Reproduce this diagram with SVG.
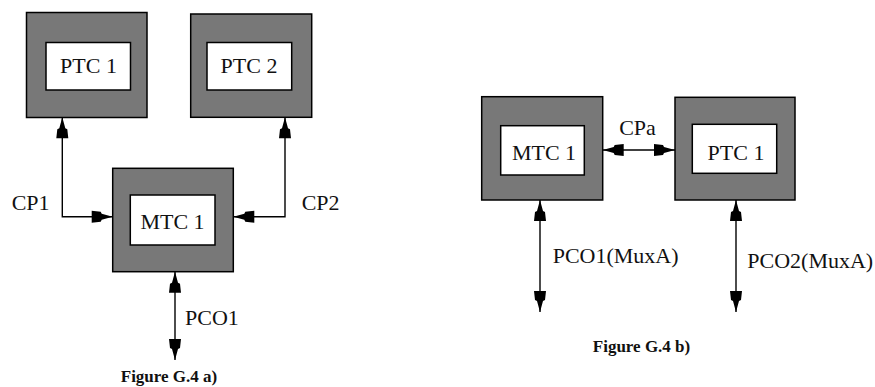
<svg xmlns="http://www.w3.org/2000/svg" width="875" height="387" viewBox="0 0 875 387">
<style>
.outer{fill:#787878;stroke:#000;stroke-width:1.5}
.inner{fill:#fff;stroke:#000;stroke-width:1.5}
.lbl{font-family:"Liberation Serif","Times New Roman",serif;font-size:22px;fill:#111}
.cap{font-family:"Liberation Serif","Times New Roman",serif;font-size:17px;font-weight:bold;fill:#111}
.conn{fill:none;stroke:#000;stroke-width:1.4}
</style>
<defs>
<marker id="ah" markerUnits="userSpaceOnUse" viewBox="-23 -7 24 14" refX="0" refY="0" markerWidth="24" markerHeight="14" orient="auto-start-reverse">
<path d="M0,0 L-11,-3 L-12,-5 L-21,-6 L-21,6 L-12,5 L-11,3 Z" fill="#000"/>
</marker>
</defs>
<rect width="875" height="387" fill="#fff"/>
<g id="a-ptc1">
<rect class="outer" x="26.5" y="12.5" width="120.5" height="105"/>
<rect class="inner" x="46" y="42.5" width="84.5" height="47.5"/>
<text class="lbl" x="88.5" y="72.7" text-anchor="middle">PTC 1</text>
</g>
<g id="a-ptc2">
<rect class="outer" x="190.7" y="14" width="121" height="103.3"/>
<rect class="inner" x="207" y="42.5" width="84.7" height="47.5"/>
<text class="lbl" x="249" y="72.7" text-anchor="middle">PTC 2</text>
</g>
<g id="a-mtc1">
<rect class="outer" x="112.7" y="168.3" width="120.6" height="103.4"/>
<rect class="inner" x="130.3" y="195" width="84.7" height="50"/>
<text class="lbl" x="172.5" y="229.3" text-anchor="middle">MTC 1</text>
</g>
<g id="b-mtc1">
<rect class="outer" x="481.7" y="96.7" width="121" height="103.3"/>
<rect class="inner" x="500.7" y="125.7" width="83.6" height="49.3"/>
<text class="lbl" x="544" y="160" text-anchor="middle">MTC 1</text>
</g>
<g id="b-ptc1">
<rect class="outer" x="675" y="97.3" width="120" height="102.7"/>
<rect class="inner" x="692.3" y="124.3" width="84.4" height="49"/>
<text class="lbl" x="736" y="160" text-anchor="middle">PTC 1</text>
</g>
<g id="connectors">
<path class="conn" d="M62.3,117.3 V216.7 H112.7" marker-start="url(#ah)" marker-end="url(#ah)"/>
<path class="conn" d="M285,117.3 V216.7 H233.3" marker-start="url(#ah)" marker-end="url(#ah)"/>
<path class="conn" d="M175,271.7 V360" marker-start="url(#ah)" marker-end="url(#ah)"/>
<path class="conn" d="M602.7,150 H675" marker-start="url(#ah)" marker-end="url(#ah)"/>
<path class="conn" d="M540,200 V312" marker-start="url(#ah)" marker-end="url(#ah)"/>
<path class="conn" d="M736,200 V312" marker-start="url(#ah)" marker-end="url(#ah)"/>
</g>
<g id="labels">
<text class="lbl" x="11.7" y="210">CP1</text>
<text class="lbl" x="301.7" y="210">CP2</text>
<text class="lbl" x="185" y="325">PCO1</text>
<text class="lbl" x="637.5" y="135" text-anchor="middle">CPa</text>
<text class="lbl" x="552.7" y="262.7">PCO1(MuxA)</text>
<text class="lbl" x="747.3" y="268.3">PCO2(MuxA)</text>
<text class="cap" x="169" y="382" text-anchor="middle">Figure G.4 a)</text>
<text class="cap" x="641.5" y="352" text-anchor="middle">Figure G.4 b)</text>
</g>
</svg>
